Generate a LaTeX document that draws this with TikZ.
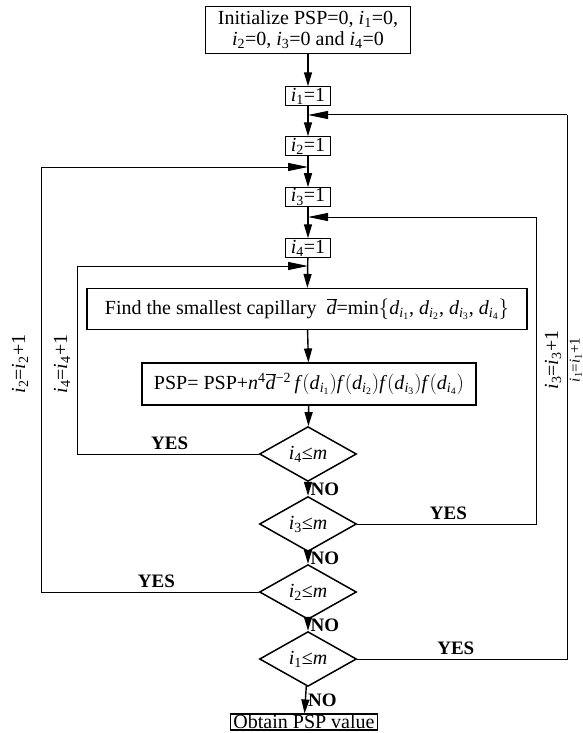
\documentclass[tikz,border=0pt]{standalone}
\usepackage{fontspec}
\setmainfont{Liberation Serif}
\usepackage{tikz}
\usetikzlibrary{arrows.meta, positioning, shapes.geometric, calc}

\newcommand{\iv}[1]{\textit{i}\textsubscript{#1}}
\newcommand{\dsub}[1]{\textit{d}\textsubscript{\textit{i}\textsubscript{#1}}}
\newcommand{\dbr}{$\overline{\mbox{\textit{d}}}$}
\newcommand{\fd}[1]{\textit{f}$\Bigl($\dsub{#1}$\Bigr)$}

\begin{document}
\begin{tikzpicture}[
    x=1pt, y=-1pt,
    font=\fontsize{20}{21}\selectfont,
    box/.style={draw, line width=1.1pt, rectangle, inner xsep=3pt,
                inner ysep=1pt, align=center},
    cnt/.style={box, inner xsep=5pt},
    cond/.style={draw, line width=1.5pt, diamond, inner sep=0pt,
                 minimum width=97pt, minimum height=37pt},
    line/.style={draw, line width=1.4pt, -{Triangle[length=14pt, width=8pt]}},
    back/.style={draw, line width=1pt, -{Triangle[length=20pt, width=8pt]}},
    loop/.style={draw, line width=1pt},
    tag/.style={font=\fontsize{19}{20}\selectfont\bfseries}
]
    \useasboundingbox (0,0) rectangle (583,733);

    \node[box, minimum width=205pt, minimum height=47pt] (init) at (308,30)
        {Initialize PSP=0, \iv{1}=0,\\\iv{2}=0, \iv{3}=0 and \iv{4}=0};
    \node[cnt] (i1) at (308,96)  {\iv{1}=1};
    \node[cnt] (i2) at (308,146) {\iv{2}=1};
    \node[cnt] (i3) at (308,197) {\iv{3}=1};
    \node[cnt] (i4) at (308,248) {\iv{4}=1};
    \node[box, minimum width=440pt, minimum height=41pt] (find) at (307,309)
        {Find the smallest capillary \ \dbr=min$\Bigl\{$\dsub{1}, \dsub{2}, \dsub{3}, \dsub{4}$\Bigr\}$};
    \node[box, minimum width=334pt, minimum height=42pt] (psp) at (309,384)
        {PSP= PSP+\textit{n}\textsuperscript{4}\dbr\textsuperscript{−2}\,\fd{1}\fd{2}\fd{3}\fd{4}};
    \node[cond] (d4) at (308,454) {\iv{4}≤\textit{m}};
    \node[cond] (d3) at (308,524) {\iv{3}≤\textit{m}};
    \node[cond] (d2) at (308,592) {\iv{2}≤\textit{m}};
    \node[cond] (d1) at (308,659) {\iv{1}≤\textit{m}};
    \node[box] (out) at (304,722) {Obtain PSP value};

    % where the loops come back in
    \coordinate (j1) at (308,115);
    \coordinate (j2) at (308,167);
    \coordinate (j3) at (308,217);
    \coordinate (j4) at (308,266);
    \coordinate (l2) at (41,0);
    \coordinate (l4) at (77,0);
    \coordinate (r3) at (536,0);
    \coordinate (r1) at (567,0);

    \draw[line] (init) -- (i1);
    \draw[line] (i1) -- (i2);
    \draw[line] (i2) -- (i3);
    \draw[line] (i3) -- (i4);
    \draw[line] (i4) -- (find);
    \draw[line] (find) -- (psp);
    \draw[line] (psp) -- (d4);
    \draw[line] (d4) -- node[right, tag, inner xsep=2pt]{NO} (d3);
    \draw[line] (d3) -- node[right, tag, inner xsep=2pt]{NO} (d2);
    \draw[line] (d2) -- node[right, tag, inner xsep=2pt]{NO} (d1);
    \draw[line] (d1) -- node[right, tag, inner xsep=2pt]{NO} (out);

    \draw[loop] (d4.west) -- node[above, tag, pos=0.49]{YES} (d4.west -| l4) -- (j4 -| l4);
    \draw[back] (j4 -| l4) -- (j4);
    \draw[loop] (d3.east) -- node[above, tag, pos=0.51]{YES} (d3.east -| r3) -- (j3 -| r3);
    \draw[back] (j3 -| r3) -- (j3);
    \draw[loop] (d2.west) -- node[above, tag, pos=0.47]{YES} (d2.west -| l2) -- (j2 -| l2);
    \draw[back] (j2 -| l2) -- (j2);
    \draw[loop] (d1.east) -- node[above, tag, pos=0.47]{YES} (d1.east -| r1) -- (j1 -| r1);
    \draw[back] (j1 -| r1) -- (j1);

    \node[rotate=90] (inc2) at (20,364)  {\iv{2}=\iv{2}+1};
    \node[rotate=90] (inc4) at (62,364)  {\iv{4}=\iv{4}+1};
    \node[rotate=90] (inc3) at (553,360) {\iv{3}=\iv{3}+1};
    \node[rotate=90, inner sep=0pt, anchor=south, font=\fontsize{15}{16}\selectfont]
        (inc1) at (582,360) {\iv{1}=\iv{1}+1};

\end{tikzpicture}
\end{document}
